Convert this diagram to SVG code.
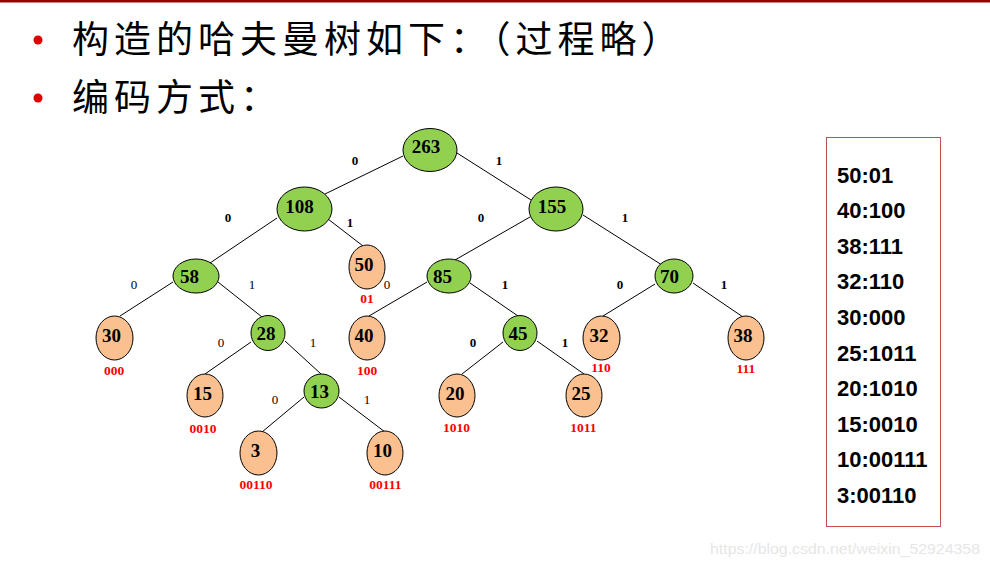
<svg xmlns="http://www.w3.org/2000/svg" width="990" height="568" viewBox="0 0 990 568">
<style>
.title{font-family:"Noto Sans CJK SC","Noto Sans",sans-serif;font-size:37px;letter-spacing:5px;fill:#000}
.g{fill:#92D050;stroke:#000;stroke-width:1}
.o{fill:#FAC090;stroke:#000;stroke-width:1}
.num{font-family:"Liberation Serif","Times New Roman",serif;font-weight:bold;font-size:19px;fill:#000;text-anchor:middle}
.code{font-family:"Liberation Serif","Times New Roman",serif;font-weight:bold;font-size:13.5px;fill:#FF0000;text-anchor:middle}
.el{font-family:"Liberation Serif","Times New Roman",serif;font-size:13px;fill:#000;text-anchor:middle}
.b{font-weight:bold}
.edge{stroke:#000;stroke-width:1;fill:none}
.leg{font-family:"Liberation Sans",Arial,sans-serif;font-weight:bold;font-size:22px;fill:#000}
</style>
<rect x="0" y="0" width="990" height="568" fill="#fff"/>
<rect x="0" y="0" width="990" height="2.5" fill="#990000"/>
<g id="header">
<circle cx="38" cy="40" r="4.5" fill="#E00000"/>
<text class="title" x="72" y="53">构造的哈夫曼树如下：（过程略）</text>
<circle cx="38" cy="98" r="4.5" fill="#E00000"/>
<text class="title" x="72" y="111">编码方式：</text>
</g>
<g id="connectors">
<line class="edge" x1="403" y1="156" x2="325" y2="194"/>
<line class="edge" x1="457" y1="153" x2="531" y2="200"/>
<line class="edge" x1="277" y1="218" x2="210" y2="263"/>
<line class="edge" x1="328" y1="219" x2="363" y2="246"/>
<line class="edge" x1="530" y1="217" x2="455" y2="260"/>
<line class="edge" x1="583" y1="215" x2="662" y2="265"/>
<line class="edge" x1="173" y1="282" x2="120" y2="316"/>
<line class="edge" x1="218" y1="282" x2="262" y2="317"/>
<line class="edge" x1="427" y1="282" x2="369" y2="316"/>
<line class="edge" x1="470" y1="283" x2="518" y2="316"/>
<line class="edge" x1="655" y1="284" x2="603" y2="316"/>
<line class="edge" x1="693" y1="283" x2="743" y2="317"/>
<line class="edge" x1="251" y1="342" x2="205" y2="374"/>
<line class="edge" x1="285" y1="341" x2="321" y2="374"/>
<line class="edge" x1="503" y1="342" x2="462" y2="374"/>
<line class="edge" x1="537" y1="341" x2="584" y2="374"/>
<line class="edge" x1="304" y1="397" x2="262" y2="432"/>
<line class="edge" x1="339" y1="397" x2="385" y2="432"/>
<text class="el b" x="355" y="165">0</text>
<text class="el b" x="499" y="165">1</text>
<text class="el b" x="228" y="222">0</text>
<text class="el b" x="350" y="227">1</text>
<text class="el b" x="481" y="222">0</text>
<text class="el b" x="625" y="222">1</text>
<text class="el" x="134" y="289">0</text>
<text class="el" x="252" y="289">1</text>
<text class="el" x="387" y="289">0</text>
<text class="el b" x="505" y="289">1</text>
<text class="el b" x="620" y="289">0</text>
<text class="el b" x="724" y="289">1</text>
<text class="el" x="221" y="347">0</text>
<text class="el" x="313" y="347">1</text>
<text class="el b" x="473" y="347">0</text>
<text class="el b" x="565" y="347">1</text>
<text class="el" x="275" y="404">0</text>
<text class="el" x="367" y="404">1</text>
</g>
<g id="n263"><ellipse class="g" cx="430" cy="150" rx="27" ry="21.5"/><text class="num" x="426" y="153">263</text></g>
<g id="n108"><ellipse class="g" cx="304.5" cy="209" rx="27.5" ry="22"/><text class="num" x="299.5" y="213">108</text></g>
<g id="n155"><ellipse class="g" cx="556" cy="209" rx="27" ry="22"/><text class="num" x="552" y="213">155</text></g>
<g id="n58"><ellipse class="g" cx="196" cy="276" rx="23" ry="17"/><text class="num" x="189.5" y="283">58</text></g>
<g id="n50"><ellipse class="o" cx="367" cy="267" rx="18" ry="22"/><text class="num" x="364" y="271">50</text><text class="code" x="367" y="303">01</text></g>
<g id="n85"><ellipse class="g" cx="449" cy="276" rx="22" ry="17"/><text class="num" x="442.5" y="283">85</text></g>
<g id="n70"><ellipse class="g" cx="674" cy="276" rx="19" ry="17"/><text class="num" x="669.5" y="283">70</text></g>
<g id="n30"><ellipse class="o" cx="114.5" cy="338" rx="18.5" ry="22"/><text class="num" x="111.5" y="342">30</text><text class="code" x="114" y="375">000</text></g>
<g id="n28"><ellipse class="g" cx="268" cy="333" rx="17" ry="17.5"/><text class="num" x="266" y="340">28</text></g>
<g id="n40"><ellipse class="o" cx="367" cy="338" rx="18" ry="22"/><text class="num" x="364" y="342">40</text><text class="code" x="367" y="375">100</text></g>
<g id="n45"><ellipse class="g" cx="520" cy="333" rx="17" ry="17.5"/><text class="num" x="518" y="340">45</text></g>
<g id="n32"><ellipse class="o" cx="601.5" cy="338" rx="18.5" ry="22"/><text class="num" x="599" y="342">32</text><text class="code" x="601" y="372">110</text></g>
<g id="n38"><ellipse class="o" cx="746" cy="338" rx="18" ry="22"/><text class="num" x="743" y="342">38</text><text class="code" x="746" y="373">111</text></g>
<g id="n15"><ellipse class="o" cx="205" cy="395.5" rx="18" ry="21.5"/><text class="num" x="202.5" y="399.5">15</text><text class="code" x="203" y="433">0010</text></g>
<g id="n13"><ellipse class="g" cx="321.5" cy="391" rx="17.5" ry="17"/><text class="num" x="319.5" y="398">13</text></g>
<g id="n20"><ellipse class="o" cx="457" cy="395.5" rx="18" ry="21.5"/><text class="num" x="455" y="399.5">20</text><text class="code" x="456.5" y="432">1010</text></g>
<g id="n25"><ellipse class="o" cx="584" cy="395.5" rx="18" ry="21.5"/><text class="num" x="581" y="399.5">25</text><text class="code" x="583.5" y="432">1011</text></g>
<g id="n3"><ellipse class="o" cx="258.5" cy="453" rx="18.5" ry="22"/><text class="num" x="255.5" y="457">3</text><text class="code" x="256" y="489">00110</text></g>
<g id="n10"><ellipse class="o" cx="385" cy="453" rx="18" ry="22"/><text class="num" x="382.5" y="457">10</text><text class="code" x="385.5" y="489">00111</text></g>
<g id="legend">
<rect x="826.5" y="137.5" width="114" height="389" fill="none" stroke="#C0504D" stroke-width="1"/>
<text class="leg" x="837" y="182.5">50:01</text>
<text class="leg" x="837" y="218.1">40:100</text>
<text class="leg" x="837" y="253.7">38:111</text>
<text class="leg" x="837" y="289.3">32:110</text>
<text class="leg" x="837" y="324.9">30:000</text>
<text class="leg" x="837" y="360.5">25:1011</text>
<text class="leg" x="837" y="396.1">20:1010</text>
<text class="leg" x="837" y="431.7">15:0010</text>
<text class="leg" x="837" y="467.3">10:00111</text>
<text class="leg" x="837" y="502.9">3:00110</text>
</g>
<text x="710" y="554" font-family="Liberation Sans,Arial,sans-serif" font-size="15.5" textLength="270" lengthAdjust="spacingAndGlyphs" fill="#E6E6E6">https://blog.csdn.net/weixin_52924358</text>
</svg>
